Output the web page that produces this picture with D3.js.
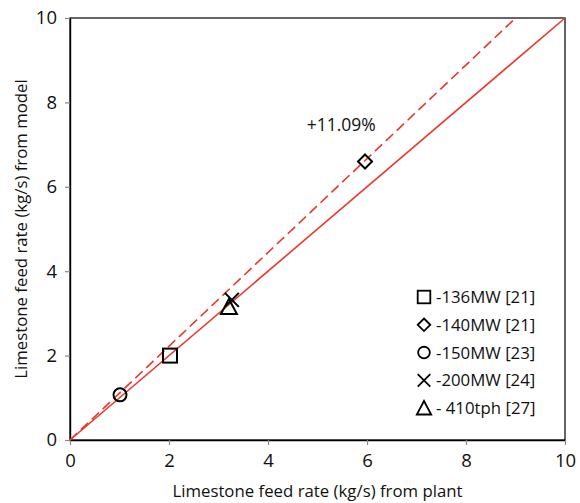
<!DOCTYPE html>
<html>
<head>
<meta charset="utf-8">
<script src="https://cdn.jsdelivr.net/npm/d3@7"></script>
<style>
  body { margin: 0; background: #fff; }
  svg text { font-family: "Open Sans", "Noto Sans", sans-serif; fill: #111; }
</style>
</head>
<body>
<div id="chart"></div>
<script>
const width = 580;
const height = 503;
const margin = ({top: 18, right: 15, bottom: 63, left: 70})

// plant vs model feed rate (kg/s)
const labels = ["-136MW [21]", "-140MW [21]", "-150MW [23]", "-200MW [24]", "- 410tph [27]"]
const symbols = ["square", "diamond", "circle", "cross", "triangle"]
const plantValues = [2.02, 5.96, 1.01, 3.27, 3.21]
const modelValues = [2.0, 6.6, 1.07, 3.32, 3.15]
const tickValues = [0, 2, 4, 6, 8, 10]
const fitSlope = 1.1109
const fitLabel = "+11.09%"

const red = "#e8392c";

const x = d3.scaleLinear()
    .domain([0, 10])
    .range([margin.left, width - margin.right])

const y = d3.scaleLinear()
    .domain([0, 10])
    .range([height - margin.bottom, margin.top])

const svg = d3.select("#chart")
    .append("svg")
    .attr("width", width)
    .attr("height", height);

// frame
svg.append("rect")
    .attr("x", x(0))
    .attr("y", y(10))
    .attr("width", x(10) - x(0))
    .attr("height", y(0) - y(10))
    .attr("fill", "none")
    .attr("stroke", "#000")
    .attr("stroke-width", 1.2)

// axes
const xAxis = svg.append("g")
    .attr("transform", `translate(0,${y(0)})`)
    .call(d3.axisBottom(x).tickValues(tickValues).tickSize(5).tickSizeOuter(0).tickPadding(9))
const yAxis = svg.append("g")
    .attr("transform", `translate(${x(0)},0)`)
    .call(d3.axisLeft(y).tickValues(tickValues).tickSize(5).tickSizeOuter(0).tickPadding(8))

;[xAxis, yAxis].forEach(g => {
    g.select(".domain").attr("stroke", "#000").attr("stroke-width", 1.4)
    g.selectAll(".tick line").attr("stroke", "#888").attr("stroke-width", 1.2)
    g.selectAll(".tick text")
        .attr("font-size", "18.5px")
        .attr("font-family", "\"Open Sans\", sans-serif")
        .attr("fill", "#111")
})

// 1:1 line
svg.append("line")
    .attr("x1", x(0)).attr("y1", y(0))
    .attr("x2", x(10)).attr("y2", y(10))
    .attr("stroke", red)
    .attr("stroke-width", 1.6)

// fitted line, dashed
const xEnd = 10 / fitSlope;
svg.append("line")
    .attr("x1", x(0)).attr("y1", y(0))
    .attr("x2", x(xEnd)).attr("y2", y(10))
    .attr("stroke", red)
    .attr("stroke-width", 1.6)
    .attr("stroke-dasharray", "10,5")

svg.append("text")
    .attr("x", x(5.48))
    .attr("y", y(7.5) + 7)
    .attr("text-anchor", "middle")
    .attr("font-size", "17.5px")
    .text(fitLabel)

// markers
function drawMarker(g, type, cx, cy) {
    const s = g.append("g")
        .attr("transform", `translate(${cx},${cy})`)
        .attr("fill", "none")
        .attr("stroke", "#000")
        .attr("stroke-width", 2)
    if (type === "square") {
        s.append("rect").attr("x", -7).attr("y", -7).attr("width", 14).attr("height", 14)
    } else if (type === "diamond") {
        s.append("path").attr("d", "M0,-7L7,0L0,7L-7,0Z")
    } else if (type === "circle") {
        s.append("circle").attr("r", 6.5)
    } else if (type === "cross") {
        s.append("path").attr("d", "M-7,-7L7,7M7,-7L-7,7")
    } else if (type === "triangle") {
        s.append("path").attr("d", "M0,-8L8,7L-8,7Z")
    }
}

plantValues.forEach((v, i) => {
    drawMarker(svg, symbols[i], x(v), y(modelValues[i]))
})

// legend
const legend = svg.append("g")
labels.forEach((d, i) => {
    const ly = 297 + i * 27.8;
    const m = legend.append("g")
    drawMarker(m, symbols[i], 424, ly)
    m.select("g").attr("transform", `translate(424,${ly}) scale(0.9)`)
    legend.append("text")
        .attr("x", 436)
        .attr("y", ly + 6)
        .attr("font-size", "16.8px")
        .text(d)
})

// axis titles
svg.append("text")
    .attr("x", (x(0) + x(10)) / 2)
    .attr("y", 497)
    .attr("text-anchor", "middle")
    .attr("font-size", "16.8px")
    .text("Limestone feed rate (kg/s) from plant")

svg.append("text")
    .attr("transform", `translate(27,${(y(0) + y(10)) / 2}) rotate(-90)`)
    .attr("text-anchor", "middle")
    .attr("font-size", "16.8px")
    .text("Limestone feed rate (kg/s) from model")
</script>
</body>
</html>
